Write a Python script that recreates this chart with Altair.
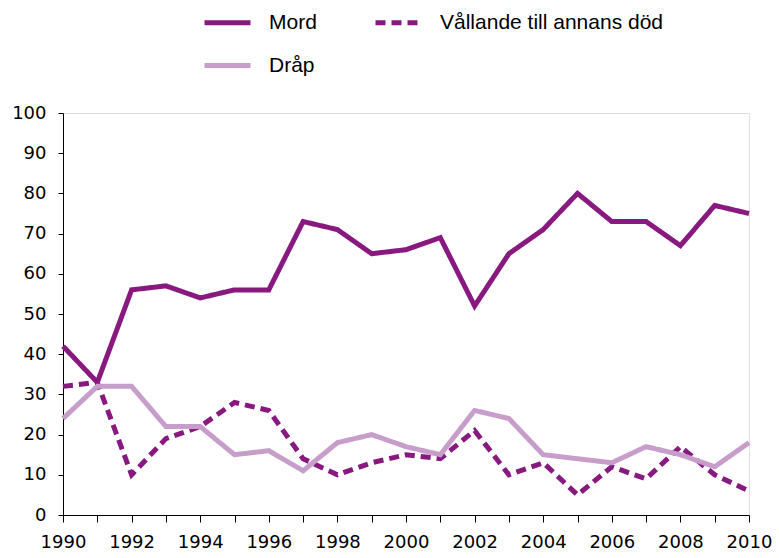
import altair as alt
import pandas as pd

years = list(range(1990, 2011))
mord = [42, 33, 56, 57, 54, 56, 56, 73, 71, 65, 66, 69, 52, 65, 71, 80, 73, 73, 67, 77, 75]
vallande = [32, 33, 10, 19, 22, 28, 26, 14, 10, 13, 15, 14, 21, 10, 13, 5, 12, 9, 17, 10, 6]
drap = [24, 32, 32, 22, 22, 15, 16, 11, 18, 20, 17, 15, 26, 24, 15, 14, 13, 17, 15, 12, 18]

series = ["Mord", "Vållande till annans död", "Dråp"]
colors = ["#87197F", "#87197F", "#C69EC9"]
dashes = [[1, 0], [10, 6], [1, 0]]

rows = []
for name, vals in zip(series, [mord, vallande, drap]):
    for y, v in zip(years, vals):
        rows.append({"År": y, "Värde": v, "Serie": name})
df = pd.DataFrame(rows)

legend_props = dict(
    title=None,
    orient="none",
    legendX=139,
    legendY=-116,
    direction="horizontal",
    columns=2,
    columnPadding=48,
    rowPadding=7,
    symbolType="stroke",
    symbolSize=2116,
    symbolStrokeWidth=5,
    labelFont="Liberation Sans",
    labelFontSize=21,
    labelColor="#000000",
    labelOffset=16,
    labelLimit=0,
    gridAlign="each",
)

axis_common = dict(
    title=None, grid=False,
    labelFont="DejaVu Sans", labelFontSize=18,
    labelColor="#000000", domainColor="#000000", tickColor="#000000",
)

chart = alt.Chart(df).mark_line(strokeWidth=5, strokeCap="butt", strokeJoin="miter").encode(
    x=alt.X("År:Q",
            scale=alt.Scale(domain=[1990, 2010], nice=False, zero=False),
            axis=alt.Axis(values=years, format="d",
                          labelExpr="datum.value % 2 == 0 ? datum.label : ''",
                          tickSize=7, labelPadding=11,
                          labelOverlap=False, labelFlush=False, **axis_common)),
    y=alt.Y("Värde:Q",
            scale=alt.Scale(domain=[0, 100], nice=False),
            axis=alt.Axis(values=list(range(0, 101, 10)),
                          tickSize=5, labelPadding=12, **axis_common)),
    color=alt.Color("Serie:N", scale=alt.Scale(domain=series, range=colors),
                    sort=series, legend=alt.Legend(**legend_props)),
    strokeDash=alt.StrokeDash("Serie:N", scale=alt.Scale(domain=series, range=dashes),
                              sort=series, legend=alt.Legend(**legend_props)),
    detail="Serie:N",
).properties(
    width=686,
    height=402,
    autosize=alt.AutoSizeParams(type="none"),
    padding={"left": 55, "top": 105, "right": 23, "bottom": 35},
).configure_view(
    stroke="#B4C3CC", strokeWidth=1.2
).configure(background="#ffffff")

chart.save("out.html", embed_options={"renderer": "svg", "actions": False})
